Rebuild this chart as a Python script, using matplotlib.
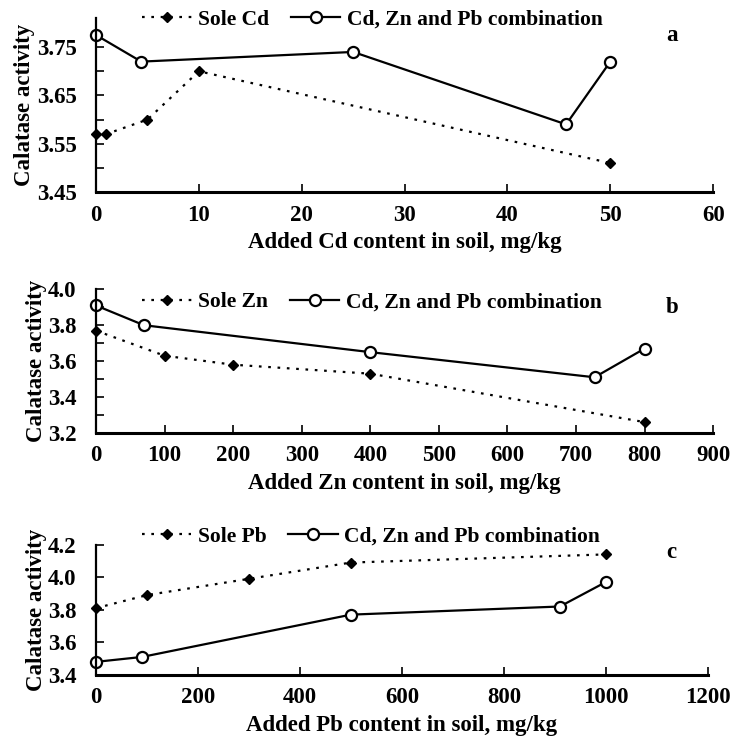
import matplotlib
matplotlib.use("Agg")
import matplotlib.pyplot as plt

plt.rcParams['font.family'] = ['Liberation Serif', 'DejaVu Serif']
plt.rcParams['font.weight'] = 'bold'
plt.rcParams['axes.labelweight'] = 'bold'
plt.rcParams['font.size'] = 16.5

# panel a: Cd
cd_sole_x = [0, 1, 5, 10, 50]
cd_sole_y = [3.57, 3.57, 3.60, 3.70, 3.51]
cd_comb_x = [0, 4.4, 25, 45.7, 50]
cd_comb_y = [3.775, 3.72, 3.74, 3.59, 3.72]

# panel b: Zn
zn_sole_x = [0, 100, 200, 400, 800]
zn_sole_y = [3.77, 3.63, 3.58, 3.53, 3.26]
zn_comb_x = [0, 70, 400, 727, 800]
zn_comb_y = [3.91, 3.80, 3.65, 3.51, 3.67]

# panel c: Pb
pb_sole_x = [0, 100, 300, 500, 1000]
pb_sole_y = [3.81, 3.89, 3.99, 4.09, 4.14]
pb_comb_x = [0, 90, 500, 910, 1000]
pb_comb_y = [3.48, 3.51, 3.77, 3.82, 3.97]

panels = [
    dict(sx=cd_sole_x, sy=cd_sole_y, cx=cd_comb_x, cy=cd_comb_y, metal="Cd",
         rect=[0.1315, 0.7405, 0.8455, 0.235], ylim=(3.45, 3.81), xlim=(0, 60),
         xticks=range(0, 61, 10), yticks=[3.45, 3.55, 3.65, 3.75],
         yminor=[3.50, 3.60, 3.70], ylabfmt="{:.2f}", tag="a", tagy=0.952, legy=0.99),
    dict(sx=zn_sole_x, sy=zn_sole_y, cx=zn_comb_x, cy=zn_comb_y, metal="Zn",
         rect=[0.1315, 0.415, 0.8455, 0.194], ylim=(3.2, 4.0), xlim=(0, 900),
         xticks=range(0, 901, 100), yticks=[3.2, 3.4, 3.6, 3.8, 4.0],
         yminor=[3.3, 3.5, 3.7, 3.9], ylabfmt="{:.1f}", tag="b", tagy=0.585, legy=0.91),
    dict(sx=pb_sole_x, sy=pb_sole_y, cx=pb_comb_x, cy=pb_comb_y, metal="Pb",
         rect=[0.1315, 0.088, 0.838, 0.176], ylim=(3.4, 4.2), xlim=(0, 1200),
         xticks=range(0, 1201, 200), yticks=[3.4, 3.6, 3.8, 4.0, 4.2],
         yminor=[], ylabfmt="{:.1f}", tag="c", tagy=0.253, legy=1.06),
]

fig = plt.figure(figsize=(7.3, 7.4), dpi=100)

for p in panels:
    ax = fig.add_axes(p["rect"])
    ax.plot(p["sx"], p["sy"], linestyle=(0, (1.2, 3)), lw=1.6, color="black",
            marker="D", markersize=5, label="Sole " + p["metal"], clip_on=False)
    ax.plot(p["cx"], p["cy"], linestyle="-", lw=1.6, color="black",
            marker="o", markersize=8, markerfacecolor="white", markeredgewidth=1.6,
            label="Cd, Zn and Pb combination", clip_on=False)
    ax.set_xlim(p["xlim"])
    ax.set_ylim(p["ylim"])
    ax.set_xticks(list(p["xticks"]))
    ax.set_yticks(p["yticks"])
    ax.set_yticklabels([p["ylabfmt"].format(v) for v in p["yticks"]])
    ax.set_yticks(p["yminor"], minor=True)
    ax.spines["top"].set_visible(False)
    ax.spines["right"].set_visible(False)
    ax.spines["left"].set_linewidth(1.6)
    ax.spines["bottom"].set_linewidth(2.2)
    ax.tick_params(direction="in", length=6, width=1.2)
    ax.tick_params(which="minor", direction="in", length=6, width=1.2)
    ax.tick_params(axis="x", pad=9)
    ax.tick_params(axis="y", pad=14)
    ax.set_xlabel(f"Added {p['metal']} content in soil, mg/kg", labelpad=5)
    ax.set_ylabel("Calatase activity", labelpad=1)
    ax.legend(loc="center left", bbox_to_anchor=(0.075, p["legy"]), ncol=2, frameon=False,
              handlelength=2.3, handletextpad=0.3, columnspacing=1.0,
              borderpad=0, borderaxespad=0, fontsize=15.5)
    fig.text(0.92, p["tagy"], p["tag"], ha="center", va="center")

fig.savefig("out.png", dpi=100)
